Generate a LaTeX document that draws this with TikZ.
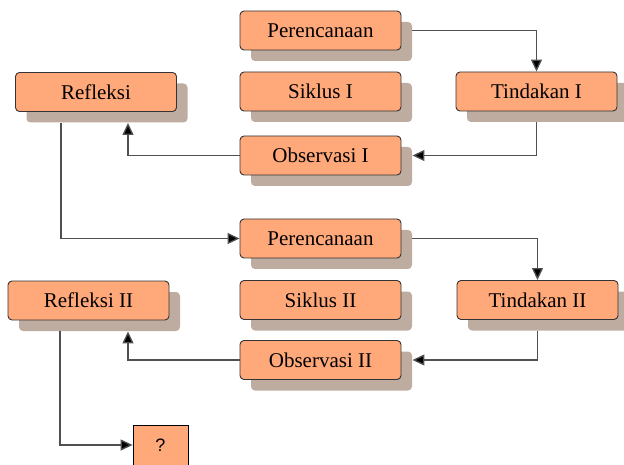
\documentclass[tikz,border=0pt]{standalone}
\usepackage{fontspec}
\setmainfont{Liberation Serif}
\newfontfamily\qfont{Liberation Sans}
\usetikzlibrary{shadows,arrows.meta}
\definecolor{boxcol}{RGB}{255,168,122}
\definecolor{shadcol}{RGB}{190,172,160}
\definecolor{linecol}{RGB}{80,80,80}

\begin{document}
\begin{tikzpicture}[x=1pt,y=-1pt,
		tahap/.style={draw=black!80, line width=0.9pt, fill=boxcol, rounded corners=4pt,
			minimum width=161pt, minimum height=39pt, inner sep=0pt,
			font=\fontsize{21}{24}\selectfont,
			drop shadow={shadow xshift=11pt, shadow yshift=-11pt, fill=shadcol, opacity=1}},
		panah/.style={draw=linecol, line width=1.3pt, -{Triangle[length=12pt,width=11pt,fill=black]}}]
	
	\useasboundingbox (0,0) rectangle (624,465);
	
	% Siklus I
	\node[tahap] (per1) at (320.5,30.5) {Perencanaan};
	\node[tahap] (sik1) at (320.5,91.5) {Siklus I};
	\node[tahap] (obs1) at (320.5,155.5) {Observasi I};
	\node[tahap] (tin1) at (536.5,91.5) {Tindakan I};
	\node[tahap] (ref1) at (96,92) {Refleksi};
	
	% Siklus II
	\node[tahap] (per2) at (320.5,238.5) {Perencanaan};
	\node[tahap] (sik2) at (320.5,300) {Siklus II};
	\node[tahap] (obs2) at (320.5,360) {Observasi II};
	\node[tahap] (tin2) at (537.5,300) {Tindakan II};
	\node[tahap] (ref2) at (88.5,300.5) {Refleksi II};
	
	% Kotak tanya
	\node[draw=black, line width=0.8pt, fill=boxcol, minimum width=55pt, minimum height=40pt,
		font=\qfont\fontsize{18}{20}\selectfont] (tanya) at (160.5,445) {?};
	
	% Panah siklus I
	\draw[panah] ([xshift=11pt]per1.east) -| (tin1.north);
	\draw[panah] ([yshift=-11pt]tin1.south) |- ([xshift=11pt]obs1.east);
	\draw[panah] (obs1.west) -| ([xshift=32pt,yshift=-11pt]ref1.south);
	\draw[panah] ([xshift=-35pt,yshift=-11pt]ref1.south) |- (per2.west);
	
	% Panah siklus II
	\draw[panah] ([xshift=11pt]per2.east) -| (tin2.north);
	\draw[panah] ([yshift=-11pt]tin2.south) |- ([xshift=11pt]obs2.east);
	\draw[panah] (obs2.west) -| ([xshift=39.5pt,yshift=-11pt]ref2.south);
	\draw[panah] ([xshift=-28.5pt,yshift=-11pt]ref2.south) |- (tanya.west);
	
\end{tikzpicture}
\end{document}
